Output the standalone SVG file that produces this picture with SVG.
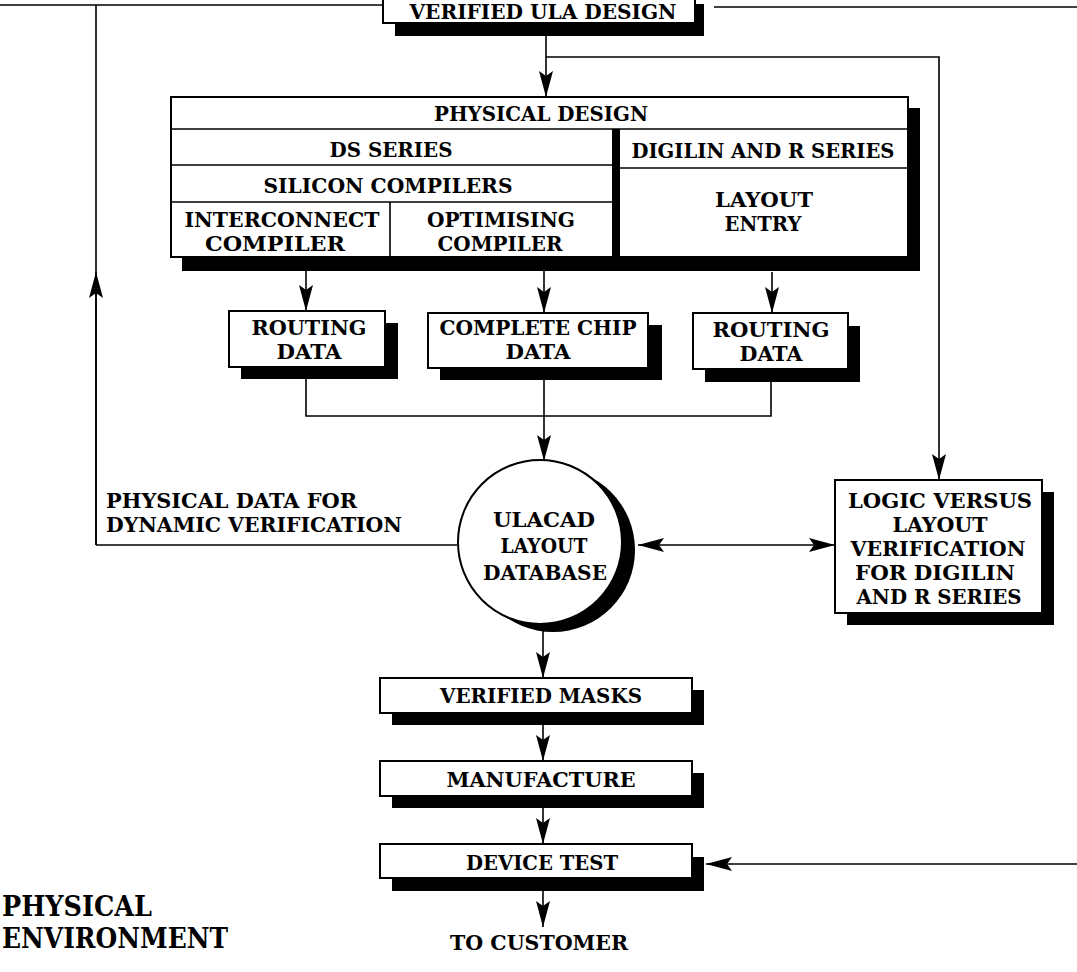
<svg xmlns="http://www.w3.org/2000/svg" width="1077" height="972" viewBox="0 0 1077 972">
<style>
.bx{fill:#fff;stroke:#000;stroke-width:2}
.sh{fill:#000}
.ln{fill:none;stroke:#000;stroke-width:1.6}
.t{font-family:"DejaVu Serif","Liberation Serif",serif;font-weight:bold;font-size:20.5px;fill:#000;text-anchor:middle}
.tl{text-anchor:start}
.big{font-size:27px}
</style>
<defs>
<marker id="ah" markerUnits="userSpaceOnUse" markerWidth="26" markerHeight="14" refX="26" refY="7" orient="auto-start-reverse">
<path d="M0,0 L26,7 L0,14 L5,7 z" fill="#000"/>
</marker>
</defs>
<rect width="1077" height="972" fill="#fff"/>
<g id="connectors">
<path class="ln" d="M0,5 H383"/>
<path class="ln" d="M714,7 H1077"/>
<path class="ln" d="M96,545 V5"/>
<path class="ln" d="M96,545 V272" marker-end="url(#ah)"/>
<path class="ln" d="M96,545 H457"/>
<path class="ln" d="M546,36 V97" marker-end="url(#ah)"/>
<path class="ln" d="M546,57 H939 V480" marker-end="url(#ah)"/>
<path class="ln" d="M306,270 V311" marker-end="url(#ah)"/>
<path class="ln" d="M544,270 V313" marker-end="url(#ah)"/>
<path class="ln" d="M772,272 V313" marker-end="url(#ah)"/>
<path class="ln" d="M306,379 V416 H771 V382"/>
<path class="ln" d="M544,380 V461" marker-end="url(#ah)"/>
<path class="ln" d="M638,545 H835" marker-start="url(#ah)" marker-end="url(#ah)"/>
<path class="ln" d="M543,630 V678" marker-end="url(#ah)"/>
<path class="ln" d="M543,725 V761" marker-end="url(#ah)"/>
<path class="ln" d="M543,808 V844" marker-end="url(#ah)"/>
<path class="ln" d="M543,891 V927" marker-end="url(#ah)"/>
<path class="ln" d="M1077,864 H706" marker-end="url(#ah)"/>
</g>
<g id="n-verified-ula">
<rect class="sh" x="395" y="4" width="309" height="32"/>
<rect class="bx" x="383" y="-10" width="312" height="33"/>
<text class="t" x="543" y="19" textLength="267" lengthAdjust="spacingAndGlyphs">VERIFIED ULA DESIGN</text>
</g>
<g id="n-physical-design">
<rect class="sh" x="182" y="108" width="738" height="163"/>
<rect class="bx" x="171" y="97" width="737" height="160"/>
<path class="ln" d="M171,129 H908 M171,165 H612 M171,202 H612 M390,202 V257 M620,168 H908"/>
<rect class="sh" x="612" y="129" width="8" height="128"/>
<text class="t" x="541" y="121" textLength="214" lengthAdjust="spacingAndGlyphs">PHYSICAL DESIGN</text>
<text class="t" x="391" y="157" textLength="123" lengthAdjust="spacingAndGlyphs">DS SERIES</text>
<text class="t" x="388" y="193" textLength="249" lengthAdjust="spacingAndGlyphs">SILICON COMPILERS</text>
<text class="t" x="282" y="227" textLength="195" lengthAdjust="spacingAndGlyphs">INTERCONNECT</text>
<text class="t" x="275" y="251" textLength="140" lengthAdjust="spacingAndGlyphs">COMPILER</text>
<text class="t" x="501" y="227" textLength="148" lengthAdjust="spacingAndGlyphs">OPTIMISING</text>
<text class="t" x="500" y="251" textLength="125" lengthAdjust="spacingAndGlyphs">COMPILER</text>
<text class="t" x="763" y="158" textLength="263" lengthAdjust="spacingAndGlyphs">DIGILIN AND R SERIES</text>
<text class="t" x="764" y="207" textLength="98" lengthAdjust="spacingAndGlyphs">LAYOUT</text>
<text class="t" x="763" y="231" textLength="77" lengthAdjust="spacingAndGlyphs">ENTRY</text>
</g>
<g id="n-routing-1">
<rect class="sh" x="241" y="323" width="157" height="56"/>
<rect class="bx" x="229" y="311" width="156" height="56"/>
<text class="t" x="309" y="335" textLength="115" lengthAdjust="spacingAndGlyphs">ROUTING</text>
<text class="t" x="309" y="359" textLength="65" lengthAdjust="spacingAndGlyphs">DATA</text>
</g>
<g id="n-complete-chip">
<rect class="sh" x="440" y="325" width="222" height="55"/>
<rect class="bx" x="428" y="313" width="220" height="55"/>
<text class="t" x="538" y="335" textLength="197" lengthAdjust="spacingAndGlyphs">COMPLETE CHIP</text>
<text class="t" x="538" y="359" textLength="65" lengthAdjust="spacingAndGlyphs">DATA</text>
</g>
<g id="n-routing-2">
<rect class="sh" x="705" y="326" width="155" height="56"/>
<rect class="bx" x="693" y="313" width="155" height="56"/>
<text class="t" x="771" y="337" textLength="117" lengthAdjust="spacingAndGlyphs">ROUTING</text>
<text class="t" x="771" y="361" textLength="63" lengthAdjust="spacingAndGlyphs">DATA</text>
</g>
<g id="n-ulacad">
<circle class="sh" cx="553" cy="550" r="82"/>
<circle class="bx" cx="540" cy="542" r="82" stroke-width="1.6"/>
<text class="t" x="544" y="527" textLength="102" lengthAdjust="spacingAndGlyphs">ULACAD</text>
<text class="t" x="544" y="553" textLength="87" lengthAdjust="spacingAndGlyphs">LAYOUT</text>
<text class="t" x="545" y="580" textLength="124" lengthAdjust="spacingAndGlyphs">DATABASE</text>
</g>
<g id="n-physical-data-label">
<text class="t tl" x="106" y="508" textLength="251" lengthAdjust="spacingAndGlyphs">PHYSICAL DATA FOR</text>
<text class="t tl" x="106" y="532" textLength="296" lengthAdjust="spacingAndGlyphs">DYNAMIC VERIFICATION</text>
</g>
<g id="n-logic">
<rect class="sh" x="847" y="492" width="207" height="133"/>
<rect class="bx" x="835" y="480" width="207" height="133"/>
<text class="t" x="940" y="508" textLength="184" lengthAdjust="spacingAndGlyphs">LOGIC VERSUS</text>
<text class="t" x="940" y="532" textLength="95" lengthAdjust="spacingAndGlyphs">LAYOUT</text>
<text class="t" x="938" y="556" textLength="175" lengthAdjust="spacingAndGlyphs">VERIFICATION</text>
<text class="t" x="935" y="580" textLength="160" lengthAdjust="spacingAndGlyphs">FOR DIGILIN</text>
<text class="t" x="939" y="604" textLength="165" lengthAdjust="spacingAndGlyphs">AND R SERIES</text>
</g>
<g id="n-verified-masks">
<rect class="sh" x="392" y="690" width="312" height="35"/>
<rect class="bx" x="380" y="678" width="312" height="35"/>
<text class="t" x="541" y="703" textLength="202" lengthAdjust="spacingAndGlyphs">VERIFIED MASKS</text>
</g>
<g id="n-manufacture">
<rect class="sh" x="392" y="773" width="312" height="35"/>
<rect class="bx" x="380" y="761" width="312" height="35"/>
<text class="t" x="541" y="787" textLength="189" lengthAdjust="spacingAndGlyphs">MANUFACTURE</text>
</g>
<g id="n-device-test">
<rect class="sh" x="392" y="857" width="312" height="34"/>
<rect class="bx" x="380" y="844" width="312" height="34"/>
<text class="t" x="542" y="870" textLength="152" lengthAdjust="spacingAndGlyphs">DEVICE TEST</text>
</g>
<g id="n-to-customer">
<text class="t" x="539" y="950" textLength="178" lengthAdjust="spacingAndGlyphs">TO CUSTOMER</text>
</g>
<g id="n-physical-environment">
<text class="t tl big" x="2" y="916" textLength="150" lengthAdjust="spacingAndGlyphs">PHYSICAL</text>
<text class="t tl big" x="2" y="948" textLength="226" lengthAdjust="spacingAndGlyphs">ENVIRONMENT</text>
</g>
</svg>
